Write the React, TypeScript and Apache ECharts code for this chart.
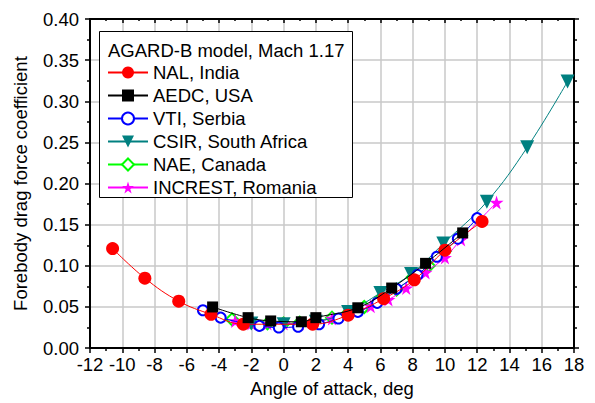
import React, { useEffect, useRef } from "react";
import * as echarts from "echarts";

const xTicks = [-12, 18];
const yRange = [0, 0.4];

const nalData: [number, number][] = [
  [-10.6, 0.121], [-8.6, 0.085], [-6.5, 0.057], [-4.5, 0.041], [-2.5, 0.029],
  [1.8, 0.029], [4.0, 0.04], [6.2, 0.06], [8.1, 0.083], [10.0, 0.119], [12.3, 0.154],
];
const aedcData: [number, number][] = [
  [-4.4, 0.05], [-2.2, 0.037], [-0.8, 0.033], [1.1, 0.032], [2.0, 0.037],
  [4.6, 0.049], [6.7, 0.073], [8.8, 0.103], [11.1, 0.14],
];
const vtiData: [number, number][] = [
  [-5.0, 0.046], [-3.9, 0.037], [-1.5, 0.027], [-0.3, 0.025], [0.9, 0.026],
  [2.2, 0.029], [3.4, 0.036], [4.6, 0.044], [5.8, 0.055], [7.0, 0.072],
  [8.3, 0.089], [9.5, 0.111], [10.8, 0.133], [12.0, 0.158],
];
const csirData: [number, number][] = [
  [-2.0, 0.03], [0.0, 0.029], [2.0, 0.032], [4.0, 0.044], [6.0, 0.067],
  [7.9, 0.09], [9.9, 0.127], [12.6, 0.178], [15.1, 0.244], [17.6, 0.324],
];
const naeData: [number, number][] = [
  [-3.2, 0.035], [-2.0, 0.031], [-1.0, 0.03], [0.0, 0.03], [1.0, 0.031],
  [2.0, 0.033], [3.0, 0.037], [4.0, 0.043], [5.0, 0.05], [6.0, 0.06],
  [7.0, 0.071], [8.0, 0.086], [9.0, 0.1], [10.0, 0.118], [11.0, 0.137],
];
const increstData: [number, number][] = [
  [-3.0, 0.033], [-2.0, 0.03], [-1.0, 0.03], [0.0, 0.03], [1.0, 0.03],
  [2.0, 0.032], [3.0, 0.036], [4.0, 0.042], [5.4, 0.051], [6.5, 0.059],
  [7.6, 0.073], [8.8, 0.092], [10.0, 0.11], [11.0, 0.132], [13.2, 0.177],
];

const seriesNames = [
  "NAL, India",
  "AEDC, USA",
  "VTI, Serbia",
  "CSIR, South Africa",
  "NAE, Canada",
  "INCREST, Romania",
];
const legendTitle = "AGARD-B model, Mach 1.17";
const xName = "Angle of attack, deg";
const yName = "Forebody drag force coefficient";

const STAR = "path://M50,0 L61,35 L98,35 L68,57 L79,91 L50,70 L21,91 L32,57 L2,35 L39,35 Z";
const FONT = "Liberation Sans, Arial, sans-serif";
const FS = 18.5;

export default function App() {
  const ref = useRef<HTMLDivElement>(null);
  useEffect(() => {
    if (!ref.current) return;
    const chart = echarts.init(ref.current, undefined, { renderer: "svg" });
    const mk = (
      name: string,
      data: [number, number][],
      color: string,
      symbol: string,
      size: number,
      z: number,
      extra: any = {}
    ) => ({
      name,
      type: "line",
      data,
      smooth: 0.4,
      symbol,
      symbolSize: size,
      z,
      lineStyle: { color, width: 1 },
      itemStyle: { color, borderWidth: extra.borderWidth ?? 0, borderColor: color },
      symbolRotate: extra.rotate ?? 0,
      emphasis: { disabled: true },
    });
    const axisCommon = {
      type: "value" as const,
      axisLine: { show: true, onZero: false, lineStyle: { color: "#000", width: 2 } },
      axisTick: { show: true, inside: false, length: 5, lineStyle: { color: "#000", width: 1.5 } },
      minorTick: { show: true, splitNumber: 2, length: 3, lineStyle: { color: "#000", width: 1.5 } },
    };
    chart.setOption({
      animation: false,
      textStyle: { fontFamily: FONT },
      grid: { left: 90, right: 21, top: 19, bottom: 54 },
      xAxis: [
        {
          ...axisCommon,
          min: xTicks[0],
          max: xTicks[1],
          interval: 2,
          name: xName,
          nameLocation: "middle",
          nameGap: 29,
          nameTextStyle: { color: "#000", fontSize: FS, fontFamily: FONT },
          axisLabel: { color: "#000", fontSize: FS, margin: 7, fontFamily: FONT },
          splitLine: { show: true, lineStyle: { color: "#c8c8c8", width: 1.5 } },
        },
        {
          ...axisCommon,
          position: "top",
          min: xTicks[0],
          max: xTicks[1],
          interval: 2,
          axisTick: { show: true, inside: true, length: 4, lineStyle: { color: "#000", width: 1.5 } },
          minorTick: { show: true, splitNumber: 2, length: 2, lineStyle: { color: "#000", width: 1.5 } },
          axisLabel: { show: false },
          splitLine: { show: false },
        },
      ],
      yAxis: [
        {
          ...axisCommon,
          min: yRange[0],
          max: yRange[1],
          interval: 0.05,
          name: yName,
          nameLocation: "middle",
          nameGap: 60,
          nameTextStyle: { color: "#000", fontSize: FS, fontFamily: FONT },
          axisLabel: {
            color: "#000",
            fontSize: FS,
            margin: 11,
            fontFamily: FONT,
            formatter: (v: number) => v.toFixed(2),
          },
          splitLine: { show: true, lineStyle: { color: "#c8c8c8", width: 1.5 } },
        },
        {
          ...axisCommon,
          position: "right",
          min: yRange[0],
          max: yRange[1],
          interval: 0.05,
          axisLabel: { show: false },
          splitLine: { show: false },
        },
      ],
      legend: {
        orient: "vertical",
        left: 107,
        top: 63,
        padding: 0,
        itemWidth: 40,
        itemHeight: 15,
        itemGap: 4,
        z: 30,
        data: seriesNames,
        selectedMode: false,
        textStyle: { color: "#000", fontSize: FS, fontFamily: FONT, lineHeight: 19 },
      },
      graphic: [
        {
          type: "rect",
          shape: { x: 99.5, y: 31.5, width: 253, height: 166 },
          style: { fill: "#fff", stroke: "#000", lineWidth: 1 },
          z: 20,
        },
        {
          type: "text",
          x: 108,
          y: 50,
          style: {
            text: legendTitle,
            fill: "#000",
            font: `${FS}px ${FONT}`,
            verticalAlign: "middle",
          },
          z: 31,
        },
      ],
      series: [
        mk(seriesNames[0], nalData, "#ff0000", "circle", 13, 5),
        mk(seriesNames[1], aedcData, "#000000", "rect", 11, 6),
        mk(seriesNames[2], vtiData, "#0000ff", "emptyCircle", 10, 4, { borderWidth: 2 }),
        mk(seriesNames[3], csirData, "#008080", "triangle", 14, 3, { rotate: 180 }),
        mk(seriesNames[4], naeData, "#00ff00", "emptyDiamond", 12, 1, { borderWidth: 2 }),
        mk(seriesNames[5], increstData, "#ff00ff", STAR, 14, 2),
      ],
    });
    return () => chart.dispose();
  }, []);
  return (
    <div
      ref={ref}
      style={{ position: "fixed", left: 0, top: 0, width: 595, height: 403, background: "#fff" }}
    />
  );
}
